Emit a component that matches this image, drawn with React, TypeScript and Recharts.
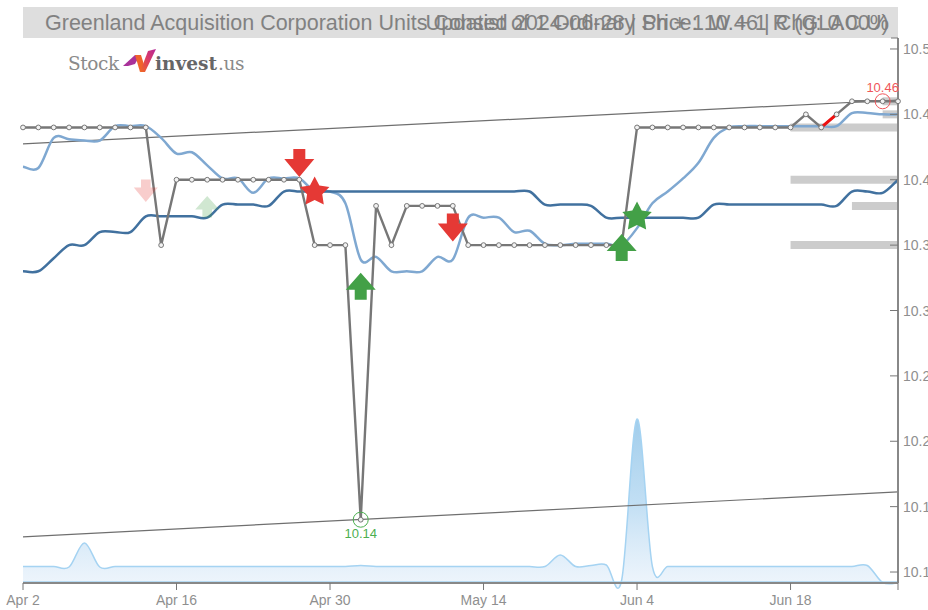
import { Area, ComposedChart, Line, ReferenceDot, ReferenceLine, XAxis, YAxis } from "recharts";

const dates = [
    "Apr 2", "Apr 3", "Apr 4", "Apr 5", "Apr 8", "Apr 9", "Apr 10", "Apr 11", "Apr 12", "Apr 15",
    "Apr 16", "Apr 17", "Apr 18", "Apr 19", "Apr 22", "Apr 23", "Apr 24", "Apr 25", "Apr 26", "Apr 29",
    "Apr 30", "May 1", "May 2", "May 3", "May 6", "May 7", "May 8", "May 9", "May 10", "May 13",
    "May 14", "May 15", "May 16", "May 17", "May 20", "May 21", "May 22", "May 23", "May 24", "May 28",
    "Jun 4", "Jun 5", "Jun 6", "Jun 7", "Jun 10", "Jun 11", "Jun 12", "Jun 13", "Jun 14", "Jun 17",
    "Jun 18", "Jun 20", "Jun 21", "Jun 24", "Jun 25", "Jun 26", "Jun 27", "Jun 28",
];

const price = [
    10.44, 10.44, 10.44, 10.44, 10.44, 10.44, 10.44, 10.44, 10.44, 10.35,
    10.4, 10.4, 10.4, 10.4, 10.4, 10.4, 10.4, 10.4, 10.4, 10.35,
    10.35, 10.35, 10.14, 10.38, 10.35, 10.38, 10.38, 10.38, 10.38, 10.35,
    10.35, 10.35, 10.35, 10.35, 10.35, 10.35, 10.35, 10.35, 10.35, 10.35,
    10.44, 10.44, 10.44, 10.44, 10.44, 10.44, 10.44, 10.44, 10.44, 10.44,
    10.44, 10.45, 10.44, 10.45, 10.46, 10.46, 10.46, 10.46,
];

const shortAvg = [
    10.41, 10.409, 10.432, 10.431, 10.43, 10.43, 10.441, 10.441, 10.441, 10.432,
    10.42, 10.421, 10.411, 10.401, 10.401, 10.39, 10.401, 10.401, 10.401, 10.391,
    10.391, 10.382, 10.339, 10.341, 10.33, 10.33, 10.33, 10.341, 10.339, 10.371,
    10.371, 10.371, 10.36, 10.361, 10.351, 10.35, 10.351, 10.351, 10.351, 10.35,
    10.363, 10.382, 10.391, 10.401, 10.413, 10.432, 10.44, 10.441, 10.441, 10.441,
    10.441, 10.441, 10.441, 10.441, 10.451, 10.451, 10.45, 10.45,
];

const longAvg = [
    10.33, 10.33, 10.34, 10.35, 10.35, 10.36, 10.36, 10.36, 10.372, 10.372,
    10.372, 10.372, 10.371, 10.381, 10.381, 10.381, 10.38, 10.391, 10.391, 10.391,
    10.391, 10.391, 10.391, 10.391, 10.391, 10.391, 10.391, 10.391, 10.391, 10.391,
    10.391, 10.391, 10.391, 10.391, 10.381, 10.381, 10.381, 10.38, 10.371, 10.371,
    10.371, 10.371, 10.371, 10.371, 10.371, 10.381, 10.381, 10.381, 10.381, 10.381,
    10.381, 10.381, 10.381, 10.38, 10.391, 10.391, 10.39, 10.4,
];

const volume = [
    1.65, 1.65, 1.65, 1.6, 4.0, 1.6, 1.65, 1.65, 1.65, 1.65,
    1.65, 1.65, 1.65, 1.65, 1.65, 1.65, 1.65, 1.65, 1.65, 1.65,
    1.65, 1.65, 1.75, 1.65, 1.65, 1.65, 1.65, 1.65, 1.65, 1.65,
    1.65, 1.65, 1.65, 1.65, 1.65, 2.8, 1.65, 1.75, 1.8, 0.3,
    16.4, 1.65, 1.65, 1.65, 1.65, 1.65, 1.65, 1.65, 1.65, 1.65,
    1.65, 1.65, 1.65, 1.65, 1.65, 1.75, 0.05, 0,
];

const priceTicks = [10.5, 10.45, 10.4, 10.35, 10.3, 10.25, 10.2, 10.15, 10.1];
const dateTicks = ["Apr 2", "Apr 16", "Apr 30", "May 14", "Jun 4", "Jun 18", "Jun 28"];
const unlabelledDates = ["Jun 28"];
const domainTop = 10.5084;

// [first date, last date, first value, last value]
const upperTrend = ["Apr 2", "Jun 28", 10.4274, 10.461] as const;
const lowerTrend = ["Apr 2", "Jun 28", 10.1269, 10.1613] as const;
const redStretch = ["Jun 21", "Jun 24", 10.44, 10.45] as const;

const levels = [
    ["Jun 18", "Jun 28", 10.44],
    ["Jun 18", "Jun 28", 10.4],
    ["Jun 25", "Jun 28", 10.38],
    ["Jun 18", "Jun 28", 10.35],
    ["Jun 27", "Jun 28", 10.45],
    ["Jun 27", "Jun 28", 10.46],
] as const;

const signals = [
    { date: "Apr 12", value: 10.383, kind: "down", color: "#e53935", opacity: 0.25 },
    { date: "Apr 18", value: 10.3876, kind: "up", color: "#43a047", opacity: 0.25 },
    { date: "Apr 26", value: 10.4021, kind: "down", color: "#e53935", opacity: 1 },
    { date: "Apr 29", value: 10.3907, kind: "star", color: "#e53935", opacity: 1 },
    { date: "May 2", value: 10.3288, kind: "up", color: "#43a047", opacity: 1 },
    { date: "May 10", value: 10.3527, kind: "down", color: "#e53935", opacity: 1 },
    { date: "May 28", value: 10.3586, kind: "up", color: "#43a047", opacity: 1 },
    { date: "Jun 4", value: 10.3716, kind: "star", color: "#43a047", opacity: 1 },
];

const extremes = [
    { date: "Jun 27", value: 10.46, label: "10.46", color: "#f0565a", labelOffset: -9 },
    { date: "May 2", value: 10.14, label: "10.14", color: "#4caf50", labelOffset: 18 },
];

function span(from: string, to: string, a: number, b: number) {
    const i0 = dates.indexOf(from);
    const i1 = dates.indexOf(to);
    return dates.map((_, i) => (i === i0 ? a : i === i1 ? b : null));
}

function flat(from: string, to: string, v: number) {
    const i0 = dates.indexOf(from);
    const i1 = dates.indexOf(to);
    return dates.map((_, i) => (i >= i0 && i <= i1 ? v : null));
}

const upperValues = span(...upperTrend);
const lowerValues = span(...lowerTrend);
const redValues = span(...redStretch);
const levelValues = levels.map((l) => flat(l[0], l[1], l[2]));

const chartData = dates.map((date, i) => {
    const row: Record<string, string | number | null> = {
        date,
        price: price[i],
        shortAvg: shortAvg[i],
        longAvg: longAvg[i],
        volume: volume[i],
        upper: upperValues[i],
        lower: lowerValues[i],
        red: redValues[i],
    };
    levelValues.forEach((vals, k) => {
        row[`level${k}`] = vals[i];
    });
    return row;
});

// catmull-rom style spline, the original overshoots a little around each jump
function splineCurve(context: any) {
    let pts: number[][] = [];
    let part = NaN;
    return {
        areaStart() {
            part = 0;
        },
        areaEnd() {
            part = NaN;
        },
        lineStart() {
            pts = [];
        },
        point(x: number, y: number) {
            pts.push([+x, +y]);
        },
        lineEnd() {
            if (pts.length) {
                if (part === 1) context.lineTo(pts[0][0], pts[0][1]);
                else context.moveTo(pts[0][0], pts[0][1]);
                for (let i = 0; i < pts.length - 1; i++) {
                    const p0 = pts[Math.max(i - 1, 0)];
                    const p1 = pts[i];
                    const p2 = pts[i + 1];
                    const p3 = pts[Math.min(i + 2, pts.length - 1)];
                    context.bezierCurveTo(
                        p1[0] + (p2[0] - p0[0]) / 6,
                        p1[1] + (p2[1] - p0[1]) / 6,
                        p2[0] - (p3[0] - p1[0]) / 6,
                        p2[1] - (p3[1] - p1[1]) / 6,
                        p2[0],
                        p2[1]
                    );
                }
                if (part === 1) context.closePath();
            }
            if (part >= 0) part = 1 - part;
        },
    };
}

function starPoints(cx: number, cy: number) {
    const pts = [];
    for (let i = 0; i < 10; i++) {
        const r = i % 2 === 0 ? 15.5 : 8;
        const a = (Math.PI / 5) * i - Math.PI / 2;
        pts.push(`${cx + r * Math.cos(a)},${cy + r * Math.sin(a)}`);
    }
    return pts.join(" ");
}

function signalShape(kind: string, color: string, opacity: number) {
    // the faded signals are drawn a little smaller
    const s = opacity < 1 ? 0.8 : 1;
    return ({ cx, cy }: any) => {
        let points = starPoints(cx, cy);
        if (kind === "down") {
            points = [
                [cx, cy], [cx - 15 * s, cy - 18 * s], [cx - 6 * s, cy - 18 * s], [cx - 6 * s, cy - 28 * s],
                [cx + 6 * s, cy - 28 * s], [cx + 6 * s, cy - 18 * s], [cx + 15 * s, cy - 18 * s],
            ].join(" ");
        } else if (kind === "up") {
            points = [
                [cx, cy], [cx - 15 * s, cy + 17 * s], [cx - 6 * s, cy + 17 * s], [cx - 6 * s, cy + 27 * s],
                [cx + 6 * s, cy + 27 * s], [cx + 6 * s, cy + 17 * s], [cx + 15 * s, cy + 17 * s],
            ].join(" ");
        }
        return <polygon points={points} fill={color} fillOpacity={opacity} />;
    };
}

function extremeShape(label: string, color: string, labelOffset: number) {
    return ({ cx, cy }: any) => (
        <g>
            <circle cx={cx} cy={cy} r={7.5} fill="none" stroke={color} strokeWidth={1} />
            <text x={cx} y={cy + labelOffset} textAnchor="middle" fontSize={13} fill={color}>
                {label}
            </text>
        </g>
    );
}

function PriceTick({ x, y, payload }: any) {
    return (
        <g>
            <line x1={x - 8} x2={x} y1={y} y2={y} stroke="#777" strokeWidth={1} />
            <text x={x + 5} y={y + 5} fontSize={14} fill="#8f8f8f">
                {payload.value.toFixed(2)}
            </text>
        </g>
    );
}

function DateTick({ x, y, payload }: any) {
    return (
        <g>
            <line x1={x} x2={x} y1={y} y2={y + 7} stroke="#777" strokeWidth={1} />
            {!unlabelledDates.includes(payload.value) && (
                <text x={x} y={y + 22} textAnchor="middle" fontSize={14} fill="#8f8f8f">
                    {payload.value}
                </text>
            )}
        </g>
    );
}

const titleStyle: React.CSSProperties = {
    position: "absolute",
    top: 9,
    lineHeight: "28px",
    color: "#7d7d7d",
    whiteSpace: "nowrap",
    opacity: 0.95,
};

function Logo() {
    const serif = '"DejaVu Serif", serif';
    return (
        <div style={{ position: "absolute", left: 68, top: 50, height: 28, fontFamily: serif, fontSize: 18.5, lineHeight: "28px", color: "#8a8a8a" }}>
            <span style={{ position: "absolute", left: 0, top: 0, letterSpacing: -0.4 }}>Stock</span>
            <svg style={{ position: "absolute", left: 55, top: -1 }} width={34} height={26}>
                <defs>
                    <linearGradient id="logoCheck" x1="0" y1="1" x2="1" y2="0">
                        <stop offset="0%" stopColor="#f26a21" />
                        <stop offset="55%" stopColor="#d93a6a" />
                        <stop offset="100%" stopColor="#b5279a" />
                    </linearGradient>
                </defs>
                <polygon points="0,17 12,6 17,6 12,15 5,17" fill="#a9329a" />
                <polygon points="12,6 18,6 22,19 17,23" fill="#f0632b" />
                <polygon points="17,23 25,2 33,0 22,23" fill="url(#logoCheck)" />
            </svg>
            <span style={{ position: "absolute", left: 87, top: 0, fontWeight: 700, color: "#666", letterSpacing: 0 }}>invest</span>
            <span style={{ position: "absolute", left: 150, top: 0, letterSpacing: -0.4 }}>.us</span>
        </div>
    );
}

export default function App() {
    return (
        <div style={{ position: "absolute", left: 0, top: 0, width: 928, height: 610, overflow: "hidden", background: "#fff", fontFamily: '"Liberation Sans", Arial, sans-serif' }}>
            <div style={{ position: "absolute", left: 23, top: 7, width: 875, height: 31, background: "#dedede" }} />
            <div style={{ ...titleStyle, left: 45, fontSize: 21.5 }}>
                Greenland Acquisition Corporation Units Consist of 1 Ordinary Sh + 1 W + 1 R (GLAC.U)
            </div>
            <div style={{ ...titleStyle, right: 39, fontSize: 21.7 }}>Updated 2024-06-28 | Price: 10.46 | Chg: 0.00%</div>
            <Logo />
            <div style={{ position: "absolute", left: 0, top: 0 }}>
                <ComposedChart
                    width={928}
                    height={610}
                    data={chartData}
                    margin={{ top: 38, right: 0, bottom: 0, left: 23 }}
                >
                    <defs>
                        <linearGradient id="volumeFill" x1="0" y1="0" x2="0" y2="1">
                            <stop offset="0%" stopColor="#5aa7dc" stopOpacity={0.95} />
                            <stop offset="50%" stopColor="#7fbce8" stopOpacity={0.8} />
                            <stop offset="100%" stopColor="#cfe2f6" stopOpacity={0.55} />
                        </linearGradient>
                    </defs>
                    <XAxis
                        dataKey="date"
                        scale="point"
                        ticks={dateTicks}
                        interval={0}
                        tick={<DateTick />}
                        tickLine={false}
                        tickSize={0}
                        tickMargin={0}
                        height={27}
                        stroke="#888"
                        strokeWidth={2}
                    />
                    <YAxis
                        orientation="right"
                        domain={[10.0916, domainTop]}
                        ticks={priceTicks}
                        interval={0}
                        tick={<PriceTick />}
                        tickLine={false}
                        tickSize={0}
                        tickMargin={0}
                        width={30}
                        stroke="#888"
                        strokeWidth={2}
                    />
                    <YAxis yAxisId="vol" hide domain={[0, 54.5]} />
                    <Area
                        yAxisId="vol"
                        dataKey="volume"
                        type={splineCurve as any}
                        stroke="#a5d3f2"
                        strokeWidth={1.5}
                        fill="url(#volumeFill)"
                        isAnimationActive={false}
                    />
                    <ReferenceLine yAxisId="vol" y={0.1} stroke="#a5d3f2" strokeWidth={1.5} />
                    {levels.map((_, k) => (
                        <Line key={k} dataKey={`level${k}`} stroke="#cccccc" strokeWidth={8} dot={false} activeDot={false} isAnimationActive={false} />
                    ))}
                    <Line dataKey="upper" connectNulls stroke="#6f6f6f" strokeWidth={1.2} dot={false} activeDot={false} isAnimationActive={false} />
                    <Line dataKey="lower" connectNulls stroke="#6f6f6f" strokeWidth={1.2} dot={false} activeDot={false} isAnimationActive={false} />
                    <Line dataKey="shortAvg" type={splineCurve as any} stroke="#7fa8d1" strokeWidth={2.5} dot={false} activeDot={false} isAnimationActive={false} />
                    <Line dataKey="longAvg" type={splineCurve as any} stroke="#41719f" strokeWidth={2.5} dot={false} activeDot={false} isAnimationActive={false} />
                    <Line
                        dataKey="price"
                        stroke="#777"
                        strokeWidth={2.4}
                        dot={{ r: 2.4, fill: "#f2f2f2", stroke: "#777", strokeWidth: 1 }}
                        activeDot={false}
                        isAnimationActive={false}
                    />
                    <Line dataKey="red" connectNulls stroke="#f01010" strokeWidth={3} dot={false} activeDot={false} isAnimationActive={false} />
                    <ReferenceDot
                        x="Jun 28"
                        y={domainTop}
                        shape={({ cx, cy }: any) => <line x1={cx - 7} x2={cx} y1={cy} y2={cy} stroke="#777" strokeWidth={1} />}
                    />
                    {signals.map((s) => (
                        <ReferenceDot key={s.date + s.kind} x={s.date} y={s.value} shape={signalShape(s.kind, s.color, s.opacity)} />
                    ))}
                    {extremes.map((e) => (
                        <ReferenceDot key={e.label} x={e.date} y={e.value} shape={extremeShape(e.label, e.color, e.labelOffset)} />
                    ))}
                </ComposedChart>
            </div>
        </div>
    );
}
